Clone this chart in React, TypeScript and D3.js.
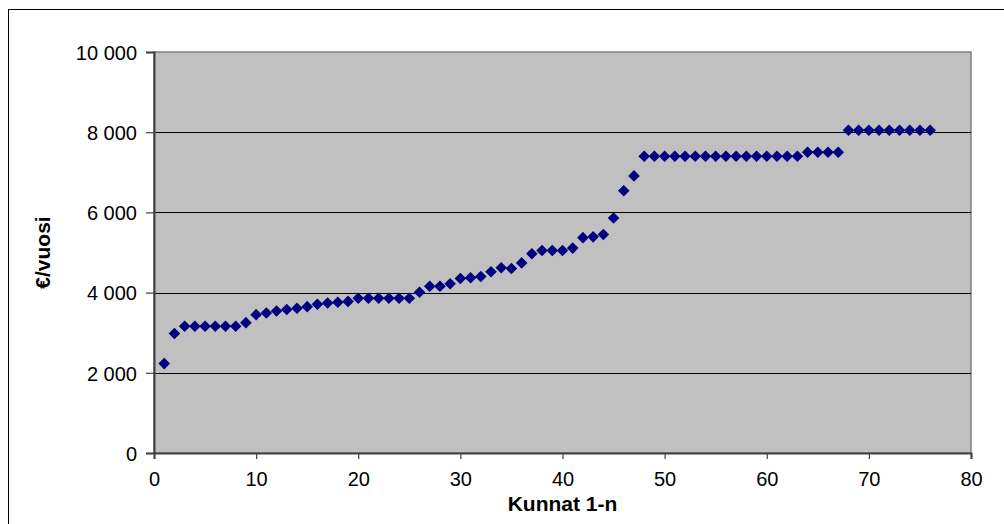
import React, { useEffect, useRef } from 'react';
import * as d3 from 'd3';

// Kunnat 1-n, €/vuosi
const municipalities = d3.range(1, 77);
const costs = [
  2230, 2980, 3160, 3160, 3160, 3160, 3160, 3160, 3250, 3450,
  3490, 3540, 3580, 3610, 3650, 3710, 3740, 3760, 3780, 3860,
  3860, 3860, 3860, 3860, 3860, 4010, 4160, 4160, 4220, 4350,
  4370, 4400, 4520, 4620, 4600, 4740, 4970, 5050, 5050, 5050,
  5110, 5370, 5390, 5450, 5860, 6540, 6910, 7400, 7400, 7400,
  7400, 7400, 7400, 7400, 7400, 7400, 7400, 7400, 7400, 7400,
  7400, 7400, 7400, 7500, 7500, 7500, 7500, 8050, 8050, 8050,
  8050, 8050, 8050, 8050, 8050, 8050,
];
const xTicks = [0, 10, 20, 30, 40, 50, 60, 70, 80];
const yTicks = [0, 2000, 4000, 6000, 8000, 10000];

const App: React.FC = () => {
  const svgRef = useRef<SVGSVGElement>(null);

  useEffect(() => {
    if (!svgRef.current) return;
    const svg = d3.select(svgRef.current);
    svg.selectAll('*').remove();

    const width = 1004;
    const height = 524;
    const plot = { left: 154, right: 971, top: 52, bottom: 453 };
    const font = '"Liberation Sans", Arial, sans-serif';

    const x = d3.scaleLinear().domain([0, 80]).range([plot.left, plot.right]);
    const y = d3.scaleLinear().domain([0, 10000]).range([plot.bottom, plot.top]);

    svg.append('rect')
      .attr('x', 0).attr('y', 0).attr('width', width).attr('height', height)
      .attr('fill', '#fff');

    // outer chart frame (runs off right and bottom)
    svg.append('rect')
      .attr('x', 8.5).attr('y', 9.5).attr('width', 1200).attr('height', 800)
      .attr('fill', 'none').attr('stroke', '#000').attr('stroke-width', 1);

    svg.append('rect')
      .attr('x', plot.left).attr('y', plot.top)
      .attr('width', plot.right - plot.left).attr('height', plot.bottom - plot.top)
      .attr('fill', '#c0c0c0').attr('stroke', '#808080').attr('stroke-width', 1.5);

    // gridlines
    svg.append('g')
      .selectAll('line')
      .data(yTicks.filter(d => d > 0 && d < 10000))
      .enter().append('line')
      .attr('x1', plot.left).attr('x2', plot.right)
      .attr('y1', d => Math.round(y(d)) + 0.5).attr('y2', d => Math.round(y(d)) + 0.5)
      .attr('stroke', '#000').attr('stroke-width', 1);

    const formatY = (d: number) => d3.format(',')(d).replace(/,/g, ' ');

    const yAxis = svg.append('g')
      .attr('transform', `translate(${plot.left},0)`)
      .call(d3.axisLeft(y).tickValues(yTicks).tickSize(8).tickPadding(9)
        .tickFormat(d => formatY(d as number)));
    const xAxis = svg.append('g')
      .attr('transform', `translate(0,${plot.bottom})`)
      .call(d3.axisBottom(x).tickValues(xTicks).tickSize(6).tickPadding(13));

    [yAxis, xAxis].forEach(g => {
      g.select('.domain').attr('stroke', '#404040').attr('stroke-width', 2);
      g.selectAll('.tick line').attr('stroke', '#404040').attr('stroke-width', 1.2);
      g.selectAll('.tick text')
        .attr('font-family', font).attr('font-size', 20).attr('fill', '#000');
    });
    yAxis.selectAll('.tick text').attr('dy', '0.36em');

    // markers
    const diamond = d3.symbol().type(d3.symbolDiamond2).size(86);
    svg.append('g')
      .selectAll('path')
      .data(costs)
      .enter().append('path')
      .attr('d', diamond)
      .attr('transform', (d, i) => `translate(${x(municipalities[i])},${y(d)})`)
      .attr('fill', '#000080');

    svg.append('text')
      .attr('x', (plot.left + plot.right) / 2).attr('y', 511)
      .attr('text-anchor', 'middle')
      .attr('font-family', font).attr('font-size', 21).attr('font-weight', 'bold')
      .text('Kunnat 1-n');

    svg.append('text')
      .attr('transform', `translate(50,${(plot.top + plot.bottom) / 2}) rotate(-90)`)
      .attr('text-anchor', 'middle')
      .attr('font-family', font).attr('font-size', 21).attr('font-weight', 'bold')
      .text('€/vuosi');
  }, []);

  return (
    <svg
      ref={svgRef}
      width="1004"
      height="524"
      style={{ position: 'absolute', left: 0, top: 0, display: 'block' }}
    />
  );
};

export default App;
